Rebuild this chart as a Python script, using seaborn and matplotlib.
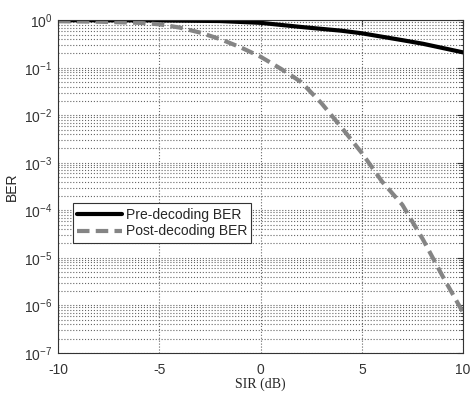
"""
BER before and after decoding vs SIR
"""
import numpy as np
import pandas as pd
import seaborn as sns
import matplotlib.pyplot as plt
from matplotlib.ticker import LogLocator, NullFormatter

sir_pre = [-10, -5, -2, 0, 2, 4, 5, 7, 8, 10]
ber_pre = [1.0, 0.99, 0.96, 0.88, 0.72, 0.6, 0.53, 0.38, 0.32, 0.21]

sir_post = [-10, -8, -6, -5, -4, -3, -2, -1, 0, 1, 2, 3, 4, 5, 6, 7, 8, 9, 10]
ber_post = [0.95, 0.93, 0.88, 0.82, 0.7, 0.55, 0.4, 0.27, 0.17, 0.095, 0.05,
            0.018, 0.0055, 0.0016, 4e-4, 1.3e-4, 2.5e-5, 4e-6, 7e-7]

pre = pd.DataFrame({"sir": sir_pre, "ber": ber_pre})
post = pd.DataFrame({"sir": sir_post, "ber": ber_post})

sns.set_style("white")
plt.rcParams["font.family"] = ["Liberation Sans", "DejaVu Sans"]
plt.rcParams["axes.unicode_minus"] = False

fig = plt.figure(figsize=(4.76, 3.96), dpi=100)
ax = fig.add_axes([0.122, 0.109, 0.851, 0.840])

sns.lineplot(data=pre, x="sir", y="ber", ax=ax, color="black", lw=3,
             label="Pre-decoding BER")
sns.lineplot(data=post, x="sir", y="ber", ax=ax, color="#858585", lw=3,
             linestyle=(0, (3, 1.5)), label="Post-decoding BER")

ax.set_yscale("log")
ax.set_xlim(-10, 10)
ax.set_ylim(1e-7, 1)
ax.set_xticks([-10, -5, 0, 5, 10])
ax.yaxis.set_major_locator(LogLocator(base=10, numticks=10))
ax.yaxis.set_minor_locator(LogLocator(base=10, subs=np.arange(2, 10), numticks=10))
ax.yaxis.set_minor_formatter(NullFormatter())

ax.grid(True, which="major", axis="both", linestyle=":", color="#666666", lw=0.8)
ax.grid(True, which="minor", axis="y", linestyle=":", color="#666666", lw=0.8)
ax.tick_params(which="both", direction="in", top=True, right=True,
               labelsize=10, colors="#333333")
ax.tick_params(which="major", length=4)
ax.tick_params(which="minor", length=2)
ax.tick_params(axis="x", pad=7)
ax.tick_params(axis="y", pad=4)
for s in ax.spines.values():
    s.set_color("#333333")
    s.set_linewidth(0.8)

ax.set_xlabel("SIR (dB)", fontsize=10, family="Liberation Serif", labelpad=1)
ax.set_ylabel("BER", fontsize=10, labelpad=4)

leg = ax.legend(loc="upper left", bbox_to_anchor=(0.02, 0.47), fontsize=10,
                frameon=True, fancybox=False, handlelength=3.2,
                borderpad=0.3, labelspacing=0.2, handletextpad=0.3)
leg.get_frame().set_edgecolor("#333333")
leg.get_frame().set_linewidth(0.8)
leg.get_frame().set_alpha(1)

fig.savefig("out.png", dpi=100)
